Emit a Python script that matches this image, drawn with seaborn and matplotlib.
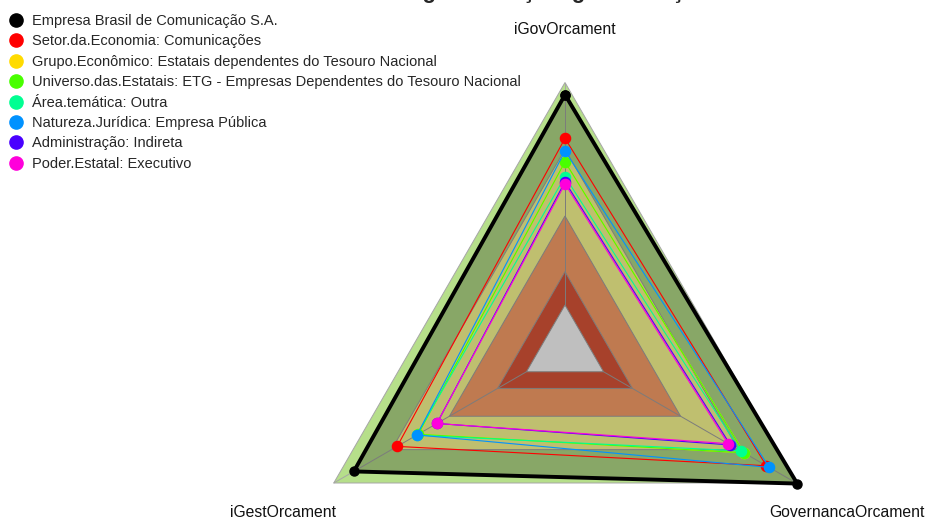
import numpy as np
import seaborn as sns
import matplotlib.pyplot as plt
from matplotlib.lines import Line2D

sns.set_theme(style='white')
plt.rcParams['font.family'] = ['Liberation Sans', 'DejaVu Sans']

# radar axes (clockwise from top)
axis_labels = ['iGovOrcament', 'GovernancaOrcament', 'iGestOrcament']

series_names = [
    'Empresa Brasil de Comunicação S.A.',
    'Setor.da.Economia: Comunicações',
    'Grupo.Econômico: Estatais dependentes do Tesouro Nacional',
    'Universo.das.Estatais: ETG - Empresas Dependentes do Tesouro Nacional',
    'Área.temática: Outra',
    'Natureza.Jurídica: Empresa Pública',
    'Administração: Indireta',
    'Poder.Estatal: Executivo',
]
series_colors = ['#000000', '#FF0000', '#FFDB00', '#49FF00',
                 '#00FF92', '#0092FF', '#4900FF', '#FF00DB']

# values: iGovOrcament, GovernancaOrcament, iGestOrcament
empresa = [0.945, 1.005, 0.896]
setor = [0.749, 0.845, 0.671]
grupo = [0.644, 0.729, 0.562]
universo = [0.644, 0.729, 0.562]
area = [0.577, 0.711, 0.570]
natureza = [0.692, 0.860, 0.568]
administracao = [0.554, 0.658, 0.465]
poder = [0.544, 0.646, 0.465]
series_values = [empresa, setor, grupo, universo, area, natureza, administracao, poder]

# background levels
band_levels = [1.0, 0.7, 0.4, 0.15, 0.0]
band_colors = ['#B6DF8A', '#FFFF95', '#FFA36B', '#E0583A', '#FFFFFF']

W, H = 925, 521
fig = plt.figure(figsize=(W / 100, H / 100), dpi=100)

rmin, rmax = -0.2, 1.1
k = 222.5  # px per unit
R = (rmax - rmin) * k
cx, cy = 565, H - 349.5
ax = fig.add_axes([(cx - R) / W, (cy - R) / H, 2 * R / W, 2 * R / H], projection='polar')
ax.set_theta_offset(np.pi / 2)
ax.set_theta_direction(-1)
ax.set_ylim(rmin, rmax)
ax.grid(False)
ax.set_xticks([])
ax.set_yticks([])
ax.spines['polar'].set_visible(False)
ax.patch.set_alpha(0)

theta = np.linspace(0, 2 * np.pi, len(axis_labels), endpoint=False)
theta_c = np.append(theta, theta[0])

for lvl, col in zip(band_levels, band_colors):
    ax.fill(theta_c, [lvl] * len(theta_c), facecolor=col, edgecolor='#A6A6A6', lw=0.7, zorder=1)

for t in theta:
    ax.plot([t, t], [0, 1.0], color='#A6A6A6', lw=0.7, zorder=2)

for i, (vals, col) in enumerate(zip(series_values, series_colors)):
    v = np.append(vals, vals[0])
    if i == 0:
        ax.fill(theta_c, v, color='black', alpha=0.25, lw=0, zorder=3)
        ax.plot(theta_c, v, color=col, lw=2.8, marker='o', ms=6.5, zorder=4, clip_on=False)
    else:
        ax.plot(theta_c, v, color=col, lw=0.8, zorder=5 + i)
        ax.plot(theta, vals, ls='none', color=col, marker='o', ms=7.3, zorder=5 + i, clip_on=False)

label_r = [1.238, 1.262, 1.262]
for t, lab, r in zip(theta, axis_labels, label_r):
    ax.text(t, r, lab, ha='center', va='center', fontsize=11.3, color='#111111')

handles = [Line2D([], [], ls='none', marker='o', color=c, ms=9.5) for c in series_colors]
fig.legend(handles, series_names, loc='upper left', bbox_to_anchor=(9 / W, 1 - 14 / H),
           frameon=False, fontsize=10.5, handlelength=1.0, handletextpad=0.55,
           labelspacing=0.44, borderpad=0, borderaxespad=0)

fig.text(0.6, 1 + 2 / H, 'Índice de governança e gestão orçamentária',
         ha='center', va='baseline', fontsize=16, fontweight='bold')

fig.savefig('out.png', dpi=100)
